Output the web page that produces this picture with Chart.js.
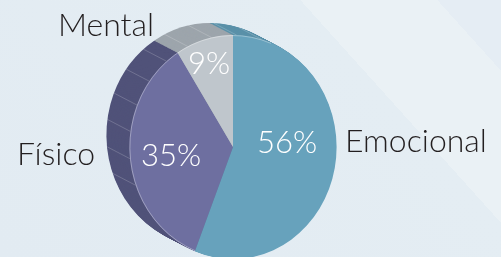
<!DOCTYPE html>
<html lang="es">
<head>
  <meta charset="UTF-8" />
  <script src="https://cdn.jsdelivr.net/npm/chart.js"></script>
  <title>Tipos</title>
  <style>
    * { padding: 0; margin: 0; }
    html, body {
      width: 501px;
      height: 257px;
      overflow: hidden;
    }
    body {
      background: linear-gradient(48deg, #e2ebf2 0%, #e4edf3 72.6%, #eaf1f5 72.6%, #eaf1f5 91.3%, #e5edf4 91.3%);
    }
    .wrap {
      position: relative;
      width: 501px;
      height: 272px;
    }
  </style>
</head>
<body>
  <div class="wrap">
    <canvas id="pieChart"></canvas>
  </div>

<script>
  // data
  const categories = ["Emocional", "Físico", "Mental"];
  const shares = [56, 35, 9];
  const faceColors = ["#67a2bc", "#6e6fa0", "#bfc6cc"];
  const sideColors = ["#5b91a9", "#505279", "#9da5ac"];

  // layout (offsets from pie centre, text baseline)
  const pctOffsets = [[54, 6], [-62, 19], [-24, -73]];
  const catOffsets = [[183, 5], [-177, 18], [-127, -111]];
  const squash = 0.925;          // pie face is a bit narrower than tall
  const depth = [-23, -12];      // extrusion of the 3d side

  function squashCtx(ctx, cx) {
    ctx.translate(cx, 0);
    ctx.scale(squash, 1);
    ctx.translate(-cx, 0);
  }

  const pie3d = {
    id: 'pie3d',
    beforeDatasetsDraw(chart) {
      const ctx = chart.ctx;
      const arcs = chart.getDatasetMeta(0).data;
      const cx = arcs[0].x;
      const steps = 30;
      ctx.save();
      squashCtx(ctx, cx);
      // side, drawn from the back to the front
      for (let s = steps; s >= 1; s--) {
        const dx = depth[0] * s / steps / squash;
        const dy = depth[1] * s / steps;
        arcs.forEach((a, i) => {
          ctx.beginPath();
          ctx.moveTo(a.x + dx, a.y + dy);
          ctx.arc(a.x + dx, a.y + dy, a.outerRadius, a.startAngle, a.endAngle);
          ctx.closePath();
          ctx.fillStyle = sideColors[i];
          ctx.fill();
        });
      }
      // faint facet lines on the side
      const a0 = arcs[0];
      ctx.strokeStyle = 'rgba(255,255,255,0.28)';
      ctx.lineWidth = 0.7;
      for (let deg = 160; deg <= 290; deg += 14) {
        const t = deg * Math.PI / 180;
        const x = a0.x + a0.outerRadius * Math.cos(t);
        const y = a0.y + a0.outerRadius * Math.sin(t);
        ctx.beginPath();
        ctx.moveTo(x, y);
        ctx.lineTo(x + depth[0] / squash, y + depth[1]);
        ctx.stroke();
      }
      ctx.restore();
      ctx.save();
      squashCtx(ctx, cx);
    },
    afterDatasetsDraw(chart) {
      const ctx = chart.ctx;
      const a = chart.getDatasetMeta(0).data[0];
      // light rim where the face meets the side
      ctx.beginPath();
      ctx.arc(a.x, a.y, a.outerRadius - 0.5, Math.PI * 0.62, Math.PI * 1.62);
      ctx.strokeStyle = 'rgba(255,255,255,0.35)';
      ctx.lineWidth = 1;
      ctx.stroke();
      ctx.restore();
    },
    afterDraw(chart) {
      const ctx = chart.ctx;
      const a = chart.getDatasetMeta(0).data[0];
      ctx.save();
      ctx.textAlign = 'center';
      ctx.textBaseline = 'alphabetic';
      shares.forEach((v, i) => {
        ctx.font = '300 31px Lato, "Open Sans", sans-serif';
        ctx.fillStyle = '#ffffff';
        ctx.fillText(v + '%', a.x + pctOffsets[i][0], a.y + pctOffsets[i][1]);
        ctx.font = '300 32px Lato, "Open Sans", sans-serif';
        ctx.fillStyle = '#231f20';
        ctx.fillText(categories[i], a.x + catOffsets[i][0], a.y + catOffsets[i][1]);
      });
      ctx.restore();
    }
  };

  new Chart(document.getElementById('pieChart'), {
    type: 'pie',
    data: {
      labels: categories,
      datasets: [{
        data: shares,
        backgroundColor: faceColors,
        borderWidth: 0,
        clip: false
      }]
    },
    options: {
      responsive: true,
      maintainAspectRatio: false,
      animation: false,
      events: [],
      layout: {
        padding: { left: 100, right: 135, top: 35, bottom: 13 }
      },
      plugins: {
        legend: { display: false },
        tooltip: { enabled: false }
      }
    },
    plugins: [pie3d]
  });
</script>
</body>
</html>
